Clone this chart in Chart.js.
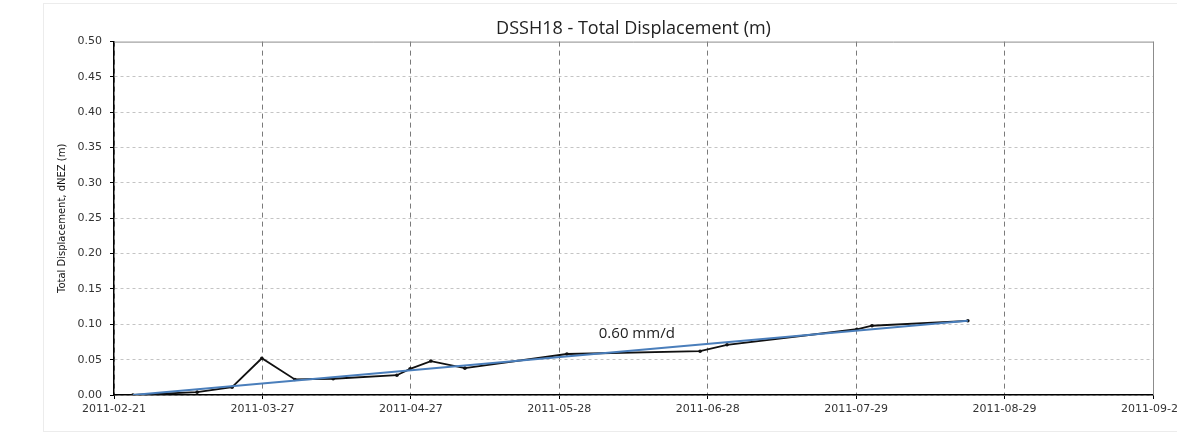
<!DOCTYPE html>
<html lang="en">
<head>
    <meta charset="UTF-8">
    <title>DSSH18 - Total Displacement</title>
    <style>
        body {
            margin: 0;
            padding: 0;
            background: #ffffff;
        }
        .chart-container {
            position: relative;
            width: 1177px;
            height: 434px;
        }
    </style>
</head>
<body>
    <div class="chart-container">
        <canvas id="dispChart"></canvas>
    </div>

    <script src="https://cdn.jsdelivr.net/npm/chart.js"></script>
    <script>
        // x values are days on the axis, counted from 2011-02-21
        const xTickLabels = ['2011-02-21', '2011-03-27', '2011-04-27', '2011-05-28',
                             '2011-06-28', '2011-07-29', '2011-08-29', '2011-09-29'];
        const axisDays = 220;

        const surveyDays = [4.0, 17.6, 25.0, 31.3, 38.3, 46.4, 59.9, 62.7, 67.1, 74.3,
                            95.9, 124.1, 129.8, 157.3, 160.5, 180.8];
        const displacement = [0.000, 0.004, 0.011, 0.052, 0.022, 0.023, 0.028, 0.037, 0.048, 0.038,
                              0.058, 0.062, 0.071, 0.093, 0.098, 0.105];

        // linear trend (0.60 mm/d)
        const trendDays = [4.0, 180.8];
        const trendValues = [0.000, 0.105];
        const trendLabel = '0.60 mm/d';
        const trendLabelAt = { x: 110.7, y: 0.086 };

        const toPoints = (xs, ys) => xs.map((x, i) => ({ x: x, y: ys[i] }));

        const labelFont = "Tahoma, 'DejaVu Sans', sans-serif";

        // top/right frame of the plot area plus the trend rate text
        const framePlugin = {
            id: 'frame',
            beforeDatasetsDraw(chart) {
                const { ctx, chartArea } = chart;
                ctx.save();
                ctx.strokeStyle = '#8c8c8c';
                ctx.lineWidth = 1;
                ctx.beginPath();
                ctx.moveTo(chartArea.left, chartArea.top + 0.5);
                ctx.lineTo(chartArea.right + 0.5, chartArea.top + 0.5);
                ctx.lineTo(chartArea.right + 0.5, chartArea.bottom);
                ctx.stroke();
                ctx.restore();
            },
            afterDraw(chart) {
                const { ctx, scales } = chart;
                ctx.save();
                ctx.fillStyle = '#222';
                ctx.font = "15px 'Open Sans', sans-serif";
                ctx.textAlign = 'center';
                ctx.textBaseline = 'middle';
                ctx.fillText(trendLabel, scales.x.getPixelForValue(trendLabelAt.x),
                             scales.y.getPixelForValue(trendLabelAt.y));
                // faint outer border of the chart
                ctx.strokeStyle = '#ececec';
                ctx.strokeRect(43.5, 3.5, 1140, 428);
                ctx.restore();
            }
        };

        new Chart(document.getElementById('dispChart'), {
            type: 'line',
            data: {
                datasets: [{
                    label: 'dNEZ',
                    data: toPoints(surveyDays, displacement),
                    borderColor: '#111111',
                    backgroundColor: '#111111',
                    borderWidth: 1.8,
                    pointRadius: 1.8,
                    pointBorderWidth: 0,
                    tension: 0,
                    order: 2
                }, {
                    label: 'Trend',
                    data: toPoints(trendDays, trendValues),
                    borderColor: '#4a7ebb',
                    borderWidth: 2,
                    pointRadius: 0,
                    tension: 0,
                    order: 1
                }]
            },
            options: {
                responsive: true,
                maintainAspectRatio: false,
                animation: false,
                layout: {
                    padding: { left: 56, right: 24, top: 0, bottom: 0 }
                },
                plugins: {
                    legend: { display: false },
                    tooltip: { enabled: false },
                    title: {
                        display: true,
                        fullSize: false,
                        text: 'DSSH18 - Total Displacement (m)',
                        color: '#222',
                        font: { family: "'Open Sans', sans-serif", size: 18, weight: 'normal' },
                        padding: { top: 18, bottom: 2 }
                    }
                },
                scales: {
                    x: {
                        type: 'linear',
                        min: 0,
                        max: axisDays,
                        afterBuildTicks(axis) {
                            axis.ticks = xTickLabels.map((_, i) => ({ value: axisDays * i / 7 }));
                        },
                        afterFit(axis) {
                            axis.height = 39;
                            axis.paddingLeft = 0;
                            axis.paddingRight = 0;
                        },
                        ticks: {
                            color: '#333',
                            font: { family: labelFont, size: 11 },
                            maxRotation: 0,
                            autoSkip: false,
                            padding: 4,
                            callback: (value, index) => xTickLabels[index]
                        },
                        grid: {
                            color: '#7a7a7a',
                            tickColor: '#000',
                            tickLength: 4,
                            drawOnChartArea: true
                        },
                        border: { display: true, color: '#000', width: 1.5, dash: [5, 4] }
                    },
                    y: {
                        min: 0,
                        max: 0.5,
                        afterFit(axis) {
                            axis.width = 58;
                            axis.paddingTop = 0;
                            axis.paddingBottom = 0;
                        },
                        ticks: {
                            stepSize: 0.05,
                            color: '#333',
                            font: { family: labelFont, size: 11 },
                            padding: 8,
                            callback: value => value.toFixed(2)
                        },
                        grid: {
                            color: ctx => ctx.tick.value >= 0.499 ? 'rgba(0,0,0,0)' : '#c4c4c4',
                            tickColor: '#000',
                            tickLength: 4
                        },
                        border: { display: true, color: '#000', width: 1.5, dash: [3, 3] },
                        title: {
                            display: true,
                            text: 'Total Displacement, dNEZ (m)',
                            color: '#111',
                            font: { family: labelFont, size: 10 },
                            padding: { top: 0, bottom: 2 }
                        }
                    }
                }
            },
            plugins: [framePlugin]
        });
    </script>
</body>
</html>
